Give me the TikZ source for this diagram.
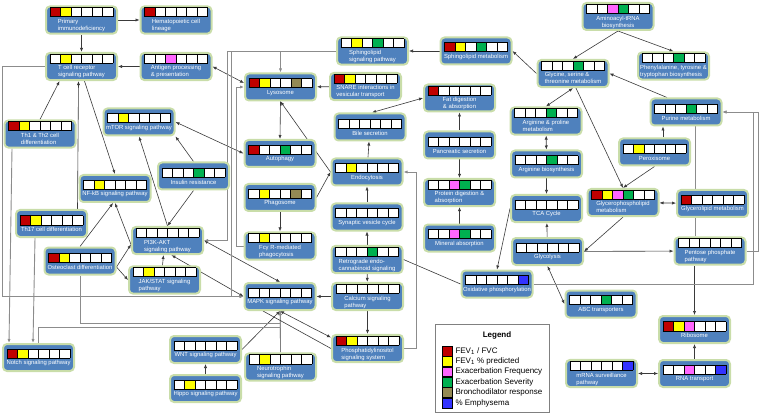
\documentclass[tikz,border=0pt]{standalone}
\usepackage{fontspec}
\setmainfont{Liberation Sans}
\usetikzlibrary{arrows.meta, positioning, backgrounds}
\definecolor{fev}{HTML}{C00000}
\definecolor{pred}{HTML}{FFFF00}
\definecolor{exfr}{HTML}{FF66FF}
\definecolor{exsv}{HTML}{00B050}
\definecolor{bdr}{HTML}{948A54}
\definecolor{emph}{HTML}{3333FF}
\definecolor{pwfill}{HTML}{4F81BD}
\definecolor{pwedge}{HTML}{C9DDA9}
\definecolor{wire}{HTML}{3A3A3A}
\definecolor{wiregray}{HTML}{8C8C8C}
% one cell of the association strip
\newcommand{\pwcell}[1]{\fcolorbox{black}{#1}{\rule{0pt}{8.2pt}\rule{9.6pt}{0pt}}\hspace{-0.9pt}}
\newcommand{\pwcells}[6]{{\setlength{\fboxsep}{0pt}\setlength{\fboxrule}{0.9pt}%
  \pwcell{#1}\pwcell{#2}\pwcell{#3}\pwcell{#4}\pwcell{#5}\pwcell{#6}}}
% two lines, left aligned
\newcommand{\two}[2]{\begin{tabular}[t]{@{}l@{}}#1\\#2\end{tabular}}
\tikzset{
  % pathway box
  pw/.style={rectangle, rounded corners=4pt, draw=pwedge, line width=2pt, fill=pwfill,
    text=white, minimum width=71pt, minimum height=27pt, inner sep=1pt, align=center,
    font=\fontsize{5.9}{7}\selectfont},
  % connectors
  link/.style={draw=wire, line width=0.6pt},
  arr/.style={link, -{Latex[length=4pt,width=3.2pt]}},
  darr/.style={link, {Latex[length=4pt,width=3.2pt]}-{Latex[length=4pt,width=3.2pt]}},
  elbow/.style={draw=wiregray, line width=0.9pt},
  % legend
  legkey/.style={draw=black, line width=0.6pt, minimum width=10pt, minimum height=9.8pt,
    inner sep=0pt},
  legtxt/.style={font=\fontsize{8}{9.6}\selectfont, inner sep=0pt},
}
\begin{document}
\begin{tikzpicture}[x=1pt, y=-1pt, node distance=0pt]
  \useasboundingbox (0,0) rectangle (760,414);
  % immune pathways
  \node[pw] (prim) at (81.5,20) {\pwcells{fev}{pred}{white}{white}{white}{white}\\ \two{Primary}{immunodeficiency}};
  \node[pw] (hema) at (176,20) {\pwcells{fev}{white}{white}{white}{white}{white}\\ \two{Hematopoietic cell}{lineage}};
  \node[pw] (tcr) at (81.5,66.5) {\pwcells{white}{pred}{white}{white}{white}{white}\\ \two{T cell receptor}{signaling pathway}};
  \node[pw] (anti) at (176,66.5) {\pwcells{white}{white}{exfr}{white}{white}{white}\\ \two{Antigen processing}{\& presentation}};
  \node[pw] (th1) at (40,134) {\pwcells{fev}{pred}{white}{white}{white}{white}\\ \two{Th1 \& Th2 cell}{differentiation}};
  \node[pw] (mtor) at (139,122) {\pwcells{white}{pred}{white}{white}{white}{white}\\mTOR signaling pathway};
  \node[pw] (nfkb) at (115,188.5) {\pwcells{white}{pred}{white}{white}{white}{white}\\NF-kB signaling pathway};
  \node[pw] (insulin) at (193.5,176) {\pwcells{white}{white}{white}{exsv}{white}{white}\\Insulin resistance};
  \node[pw] (th17) at (51.5,223.5) {\pwcells{fev}{pred}{white}{white}{white}{white}\\Th17 cell differentiation};
  \node[pw] (pi3k) at (167.5,240.5) {\pwcells{white}{white}{white}{white}{white}{white}\\ \two{PI3K-AKT}{signaling pathway}};
  \node[pw] (osteo) at (80,261) {\pwcells{fev}{pred}{white}{white}{white}{white}\\Osteoclast differentiation};
  \node[pw] (jak) at (164.5,280) {\pwcells{white}{pred}{white}{white}{white}{white}\\ \two{JAK/STAT signaling}{pathway}};
  \node[pw] (notch) at (38.5,357.5) {\pwcells{fev}{pred}{white}{white}{white}{white}\\Notch signaling pathway};
  \node[pw] (wnt) at (205.5,349.5) {\pwcells{white}{white}{white}{white}{white}{white}\\WNT signaling pathway};
  \node[pw] (hippo) at (205.5,388.5) {\pwcells{white}{pred}{white}{white}{white}{white}\\Hippo signaling pathway};
  % vesicles and signalling
  \node[pw] (sphsig) at (372.5,51) {\pwcells{white}{pred}{white}{exsv}{white}{white}\\ \two{Sphingolipid}{signaling pathway}};
  \node[pw] (sphmet) at (476,51) {\pwcells{fev}{pred}{white}{exsv}{white}{white}\\Sphingolipid metabolism};
  \node[pw] (lyso) at (280.5,87) {\pwcells{fev}{pred}{white}{white}{bdr}{white}\\Lysosome};
  \node[pw] (snare) at (365.5,86.5) {\pwcells{fev}{pred}{white}{white}{white}{white}\\ \two{SNARE interactions in}{vesicular  transport}};
  \node[pw] (autoph) at (280,153.5) {\pwcells{fev}{white}{white}{exsv}{white}{white}\\Autophagy};
  \node[pw] (phago) at (280,197.5) {\pwcells{white}{pred}{white}{white}{bdr}{white}\\Phagosome};
  \node[pw] (fcgr) at (280,246) {\pwcells{white}{pred}{white}{white}{white}{white}\\ \two{Fcγ R-mediated}{phagocytosis}};
  \node[pw] (mapk) at (280,296.5) {\pwcells{white}{white}{white}{white}{white}{white}\\MAPK signaling pathway};
  \node[pw] (neuro) at (280.5,367) {\pwcells{white}{pred}{white}{white}{white}{white}\\ \two{Neurotrophin}{signaling pathway}};
  \node[pw] (bile) at (370,127) {\pwcells{white}{white}{white}{white}{white}{white}\\Bile secretion};
  \node[pw] (endo) at (367,172) {\pwcells{white}{pred}{white}{white}{white}{white}\\Endocytosis};
  \node[pw] (synap) at (367,217) {\pwcells{white}{white}{white}{white}{white}{white}\\Synaptic vesicle cycle};
  \node[pw] (retro) at (367,259.5) {\pwcells{white}{white}{white}{exsv}{white}{white}\\ \two{Retrograde endo-}{cannabinoid signaling}};
  \node[pw] (calcium) at (367.5,296.5) {\pwcells{white}{white}{white}{white}{white}{white}\\ \two{Calcium signaling}{pathway}};
  \node[pw] (phosph) at (367.5,348.5) {\pwcells{fev}{pred}{white}{white}{white}{white}\\ \two{Phosphatidylinositol}{signaling system}};
  % digestion
  \node[pw] (fat) at (459.5,98) {\pwcells{fev}{white}{white}{white}{white}{white}\\Fat digestion\\\& absorption};
  \node[pw] (panc) at (459.5,145) {\pwcells{white}{white}{white}{white}{white}{white}\\Pancreatic secretion};
  \node[pw] (protein) at (459.5,192.5) {\pwcells{white}{white}{exfr}{exsv}{white}{white}\\ \two{Protein digestion \&}{absorption}};
  \node[pw] (mineral) at (459.5,238) {\pwcells{white}{white}{exfr}{exsv}{white}{white}\\Mineral absorption};
  % metabolism
  \node[pw] (amino) at (618,16.5) {\pwcells{white}{white}{exfr}{exsv}{white}{white}\\Aminoacyl-tRNA\\biosynthesis};
  \node[pw] (gly) at (573,73.5) {\pwcells{white}{white}{white}{exsv}{white}{white}\\ \two{Glycine, serine \&}{threonine metabolism}};
  \node[pw] (phe) at (673.5,66) {\pwcells{white}{white}{white}{exsv}{white}{white}\\ \two{Phenylalanine, tyrosine \&}{tryptophan biosynthesis}};
  \node[pw] (argpro) at (546,121) {\pwcells{white}{white}{white}{exsv}{white}{white}\\ \two{Arginine \& proline}{metabolism}};
  \node[pw] (purine) at (686,112) {\pwcells{white}{white}{white}{exsv}{white}{white}\\Purine metabolism};
  \node[pw] (argbio) at (546.5,164) {\pwcells{white}{white}{white}{exsv}{white}{white}\\Arginine biosynthesis};
  \node[pw] (perox) at (654.5,152) {\pwcells{white}{pred}{white}{white}{white}{white}\\Peroxisome};
  \node[pw] (tca) at (546.5,208.5) {\pwcells{white}{white}{white}{white}{white}{white}\\TCA Cycle};
  \node[pw] (gphl) at (623,202.5) {\pwcells{fev}{pred}{exfr}{exsv}{white}{white}\\ \two{Glycerophospholipid}{metabolism}};
  \node[pw] (glyl) at (712.5,203.5) {\pwcells{fev}{white}{white}{white}{white}{white}\\Glycerolipid metabolism};
  \node[pw] (glycol) at (547.5,251.5) {\pwcells{white}{white}{white}{white}{white}{white}\\Glycolysis};
  \node[pw] (pentose) at (710,251) {\pwcells{white}{white}{white}{white}{white}{white}\\ \two{Pentose phosphate}{pathway}};
  \node[pw] (oxphos) at (497,284) {\pwcells{white}{white}{white}{white}{white}{emph}\\Oxidative phosphorylation};
  \node[pw] (abc) at (601,304) {\pwcells{white}{white}{white}{exsv}{white}{white}\\ABC transporters};
  \node[pw] (ribo) at (694.5,329.5) {\pwcells{fev}{pred}{exfr}{white}{white}{white}\\Ribosome};
  \node[pw] (mrna) at (601.5,373.5) {\pwcells{white}{white}{white}{white}{white}{emph}\\ \two{mRNA surveillance}{pathway}};
  \node[pw] (rna) at (694.5,373.5) {\pwcells{white}{white}{exfr}{white}{white}{emph}\\RNA transport};

  % legend
  \node[draw=black!50, line width=0.8pt, minimum width=114pt, minimum height=88pt] (legend) at (492,368) {};
  \node[font=\bfseries\fontsize{8}{9.6}\selectfont] (legtitle) at (497,335) {Legend};
  \node[legkey, fill=fev] (k1) at (447,351) {};
  \node[legkey, fill=pred, below=of k1] (k2) {};
  \node[legkey, fill=exfr, below=of k2] (k3) {};
  \node[legkey, fill=exsv, below=of k3] (k4) {};
  \node[legkey, fill=bdr, below=of k4] (k5) {};
  \node[legkey, fill=emph, below=of k5] (k6) {};
  \node[legtxt, right=3pt of k1] (t1) {FEV\textsubscript{1} / FVC};
  \node[legtxt, right=3pt of k2] (t2) {FEV\textsubscript{1} \% predicted};
  \node[legtxt, right=3pt of k3] (t3) {Exacerbation Frequency};
  \node[legtxt, right=3pt of k4] (t4) {Exacerbation Severity};
  \node[legtxt, right=3pt of k5] (t5) {Bronchodilator response};
  \node[legtxt, right=3pt of k6] (t6) {\% Emphysema};

  \begin{scope}[on background layer]
    % immune side
    \draw[arr] (prim) -- (hema);
    \draw[arr] (prim) -- (tcr);
    \draw[arr] (anti) -- (tcr);
    \draw[darr] (anti.east) -- ([yshift=4pt]lyso.west);
    \draw[arr] (th1.north) -- ([xshift=-22pt]tcr.south);
    \draw[arr] ([xshift=26pt]th17.north) -- ([xshift=-3pt]tcr.south);
    \draw[arr] ([xshift=3pt]tcr.south) -- (nfkb.north);
    \draw[arr, elbow] (tcr.west) -- ++(-43,0) |- (mapk.west);
    \draw[arr, elbow] ([xshift=-28pt]th1.south) -- ([xshift=-29.5pt]notch.north);
    \draw[arr, elbow] ([xshift=-16.5pt]th17.south) -- ([xshift=-5.5pt]notch.north);
    \draw[arr] (pi3k.north) -- (mtor.south);
    \draw[arr] (insulin.north) -- (mtor.south east);
    \draw[arr] (insulin.south) -- (pi3k.north);
    \draw[darr] (mtor.east) -- (autoph.west);
    \draw[arr] (osteo.north) -- ([xshift=-2pt]nfkb.south);
    \draw[arr] ([yshift=-4pt]pi3k.west) -- (nfkb.south);
    \draw[arr] ([yshift=-6pt]osteo.east) -- ([yshift=-4pt]pi3k.west);
    \draw[arr] ([yshift=-6pt]osteo.east) -- (jak.west);
    \draw[arr] ([xshift=-2pt]jak.north) -- ([xshift=-4pt]pi3k.south);
    \draw[darr] (mapk.west) -- ([xshift=4pt]pi3k.south);
    \draw[darr] (pi3k.east) -- (mapk.north);
    \draw[arr] (hippo) -- (wnt);
    \draw[arr] (wnt.east) -- (mapk.south);
    \draw[arr] (neuro) -- (mapk);
    \draw[arr, elbow] (osteo.south) |- ([yshift=-12pt]mapk.south) -- (mapk.south);
    \draw[arr, elbow] (notch.north) |- ([yshift=-16pt]mapk.south) -- (mapk.south);
    \draw[darr] (mapk.south) -- ([yshift=11pt]phosph.west);
    \draw[link] ([xshift=-17pt]mapk.south) -- (phosph.west);
    % sphingolipid and vesicles
    \draw[arr, elbow] (sphsig.west) -| (lyso.north);
    \draw[arr, elbow] (sphsig.west) -| ([xshift=23.5pt]pi3k.east) -- (pi3k.east);
    \draw[arr, elbow] (sphsig.west) -| ([xshift=-12pt]mapk.west) -- (mapk.west);
    \draw[arr, elbow] (fcgr.west) -- ++(-7.5,0) |- (lyso.west);
    \draw[arr] (sphmet) -- (sphsig);
    \draw[arr] (gly.west) -- (sphmet.east);
    \draw[arr] (snare) -- (lyso);
    \draw[arr] (lyso.south) -- (autoph.north);
    \draw[arr] (endo.west) -- (lyso.south);
    \draw[arr] (phago.east) -- (endo.west);
    \draw[arr] (phago) -- (fcgr);
    \draw[arr] (endo) -- (bile);
    \draw[darr] ([xshift=2pt]bile.north) -- (fat.west);
    \draw[arr] (panc) -- (fat);
    \draw[arr] (panc) -- (protein);
    \draw[arr] (mineral) -- (protein);
    \draw[arr] (synap) -- (endo);
    \draw[arr] (retro) -- (synap);
    \draw[arr] (retro) -- (calcium);
    \draw[link] (retro.east) -- (oxphos.west);
    \draw[arr] (calcium) -- (mapk);
    \draw[arr] (calcium) -- (phosph);
    \draw[arr, elbow] (phosph.east) -| ([xshift=12.5pt]endo.east) -- (endo.east);
    % metabolism
    \draw[arr] (amino.south) -- (gly.north);
    \draw[arr] (amino.south) -- (phe.north);
    \draw[arr] ([xshift=-19pt]purine.north) -- (gly.east);
    \draw[darr] (gly.south) -- (argpro.north);
    \draw[arr] ([xshift=3pt]gly.south) -- (gphl.north);
    \draw[darr] (argpro) -- (argbio);
    \draw[arr] (argbio) -- (tca);
    \draw[arr] (glycol) -- (tca);
    \draw[arr] ([xshift=8.5pt]perox.north) -- ([xshift=-23pt]purine.south);
    \draw[arr] (perox.south) -- (gphl.north);
    \draw[darr] (gphl) -- (glyl);
    \draw[arr] (gphl.south) -- (glycol.east);
    \draw[arr] (glycol) -- (pentose);
    \draw[arr] (pentose.south -| ribo.north) -- (ribo.north);
    \draw[arr] (rna) -- (ribo);
    \draw[darr] (mrna) -- (rna);
    \draw[arr] (tca.west) -- (oxphos.north);
    \draw[darr] (glycol.south) -- (abc.west);
    \draw[arr, elbow] (oxphos.east) -| ([xshift=31pt]purine.east) -- (purine.east);
    \draw[arr, elbow] (pentose.east) -| ([xshift=36pt]purine.east) -- (purine.east);
    \draw[link, elbow] ([xshift=9pt]purine.south) -- ([xshift=-15pt]pentose.north);
  \end{scope}
\end{tikzpicture}
\end{document}
